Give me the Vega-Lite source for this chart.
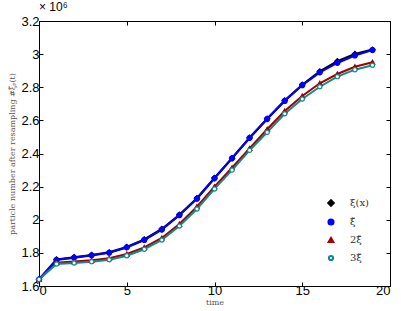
{
  "$schema": "https://vega.github.io/schema/vega-lite/v6.json",
  "autosize": {"type": "none"},
  "width": 351,
  "height": 265,
  "padding": {"left": 39, "top": 21, "right": 11, "bottom": 25},
  "background": "white",
  "title": {"text": "× 10⁶", "anchor": "start", "frame": "group", "offset": 1, "fontSize": 12, "fontWeight": "normal", "font": "Liberation Sans", "color": "black"},
  "config": {
    "view": {"stroke": "black", "strokeWidth": 1},
    "axis": {"grid": false, "domain": false, "tickColor": "black", "tickSize": -4, "labelFont": "Liberation Sans", "labelFontSize": 13, "labelColor": "black", "titleFont": "DejaVu Serif", "titleFontSize": 8, "titleFontWeight": "normal", "titleColor": "#555555"},
    "legend": {"orient": "none", "legendX": 287, "legendY": 177, "padding": 0, "title": null, "labelFont": "DejaVu Serif", "labelFontSize": 10, "labelColor": "#333333", "rowPadding": 4, "labelOffset": 14, "symbolStrokeWidth": 1.6}
  },
  "data": {"values": [
    {"t":0,"v":1640000,"s":"ξ(x)"},{"t":1,"v":1760000,"s":"ξ(x)"},{"t":2,"v":1773000,"s":"ξ(x)"},{"t":3,"v":1787000,"s":"ξ(x)"},{"t":4,"v":1803000,"s":"ξ(x)"},{"t":5,"v":1835000,"s":"ξ(x)"},{"t":6,"v":1881000,"s":"ξ(x)"},{"t":7,"v":1944000,"s":"ξ(x)"},{"t":8,"v":2030000,"s":"ξ(x)"},{"t":9,"v":2130000,"s":"ξ(x)"},{"t":10,"v":2252000,"s":"ξ(x)"},{"t":11,"v":2372000,"s":"ξ(x)"},{"t":12,"v":2495000,"s":"ξ(x)"},{"t":13,"v":2610000,"s":"ξ(x)"},{"t":14,"v":2720000,"s":"ξ(x)"},{"t":15,"v":2815000,"s":"ξ(x)"},{"t":16,"v":2895000,"s":"ξ(x)"},{"t":17,"v":2957000,"s":"ξ(x)"},{"t":18,"v":3001000,"s":"ξ(x)"},{"t":19,"v":3027000,"s":"ξ(x)"},
    {"t":0,"v":1640000,"s":"ξ̃"},{"t":1,"v":1757000,"s":"ξ̃"},{"t":2,"v":1771000,"s":"ξ̃"},{"t":3,"v":1785000,"s":"ξ̃"},{"t":4,"v":1801000,"s":"ξ̃"},{"t":5,"v":1833000,"s":"ξ̃"},{"t":6,"v":1878000,"s":"ξ̃"},{"t":7,"v":1940000,"s":"ξ̃"},{"t":8,"v":2027000,"s":"ξ̃"},{"t":9,"v":2127000,"s":"ξ̃"},{"t":10,"v":2250000,"s":"ξ̃"},{"t":11,"v":2371000,"s":"ξ̃"},{"t":12,"v":2494000,"s":"ξ̃"},{"t":13,"v":2608000,"s":"ξ̃"},{"t":14,"v":2717000,"s":"ξ̃"},{"t":15,"v":2812000,"s":"ξ̃"},{"t":16,"v":2890000,"s":"ξ̃"},{"t":17,"v":2947000,"s":"ξ̃"},{"t":18,"v":2992000,"s":"ξ̃"},{"t":19,"v":3025000,"s":"ξ̃"},
    {"t":0,"v":1640000,"s":"2ξ̃"},{"t":1,"v":1741000,"s":"2ξ̃"},{"t":2,"v":1747000,"s":"2ξ̃"},{"t":3,"v":1755000,"s":"2ξ̃"},{"t":4,"v":1767000,"s":"2ξ̃"},{"t":5,"v":1793000,"s":"2ξ̃"},{"t":6,"v":1833000,"s":"2ξ̃"},{"t":7,"v":1890000,"s":"2ξ̃"},{"t":8,"v":1974000,"s":"2ξ̃"},{"t":9,"v":2079000,"s":"2ξ̃"},{"t":10,"v":2200000,"s":"2ξ̃"},{"t":11,"v":2314000,"s":"2ξ̃"},{"t":12,"v":2431000,"s":"2ξ̃"},{"t":13,"v":2546000,"s":"2ξ̃"},{"t":14,"v":2657000,"s":"2ξ̃"},{"t":15,"v":2747000,"s":"2ξ̃"},{"t":16,"v":2824000,"s":"2ξ̃"},{"t":17,"v":2880000,"s":"2ξ̃"},{"t":18,"v":2924000,"s":"2ξ̃"},{"t":19,"v":2951000,"s":"2ξ̃"},
    {"t":0,"v":1640000,"s":"3ξ̃"},{"t":1,"v":1733000,"s":"3ξ̃"},{"t":2,"v":1739000,"s":"3ξ̃"},{"t":3,"v":1747000,"s":"3ξ̃"},{"t":4,"v":1759000,"s":"3ξ̃"},{"t":5,"v":1783000,"s":"3ξ̃"},{"t":6,"v":1822000,"s":"3ξ̃"},{"t":7,"v":1878000,"s":"3ξ̃"},{"t":8,"v":1962000,"s":"3ξ̃"},{"t":9,"v":2065000,"s":"3ξ̃"},{"t":10,"v":2186000,"s":"3ξ̃"},{"t":11,"v":2300000,"s":"3ξ̃"},{"t":12,"v":2419000,"s":"3ξ̃"},{"t":13,"v":2528000,"s":"3ξ̃"},{"t":14,"v":2640000,"s":"3ξ̃"},{"t":15,"v":2729000,"s":"3ξ̃"},{"t":16,"v":2803000,"s":"3ξ̃"},{"t":17,"v":2864000,"s":"3ξ̃"},{"t":18,"v":2906000,"s":"3ξ̃"},{"t":19,"v":2933000,"s":"3ξ̃"}
  ]},
  "resolve": {"axis": {"x": "independent", "y": "independent"}},
  "layer": [
    {
      "mark": {"type": "line"},
      "encoding": {
        "x": {"field": "t", "type": "quantitative", "scale": {"domain": [0, 20]}, "axis": {"values": [0, 5, 10, 15, 20], "title": "time", "labelPadding": 2, "titlePadding": 1}},
        "y": {"field": "v", "type": "quantitative", "scale": {"domain": [1600000, 3200000], "zero": false}, "axis": {"values": [1600000, 1800000, 2000000, 2200000, 2400000, 2600000, 2800000, 3000000, 3200000], "labelExpr": "format(datum.value/1e6, '~g')", "title": "particle number after resampling #ξ̃ₚ(t)", "labelPadding": 4, "titlePadding": 4}},
        "stroke": {"field": "s", "type": "nominal", "sort": ["ξ(x)", "ξ̃", "2ξ̃", "3ξ̃"], "scale": {"domain": ["ξ(x)", "ξ̃", "2ξ̃", "3ξ̃"], "range": ["#000000", "#0000ff", "#a00000", "#138a8a"]},
          "legend": {"encode": {"symbols": {"update": {"strokeWidth": {"value": 1.4}}}}}},
        "strokeWidth": {"field": "s", "type": "nominal", "scale": {"domain": ["ξ(x)", "ξ̃", "2ξ̃", "3ξ̃"], "range": [2.2, 2, 1.4, 1.4]}, "legend": null}
      }
    },
    {
      "mark": {"type": "point", "filled": false, "strokeWidth": 1.2, "opacity": 1},
      "encoding": {
        "x": {"field": "t", "type": "quantitative", "axis": null},
        "y": {"field": "v", "type": "quantitative", "axis": null},
        "stroke": {"field": "s", "type": "nominal", "sort": ["ξ(x)", "ξ̃", "2ξ̃", "3ξ̃"], "scale": {"domain": ["ξ(x)", "ξ̃", "2ξ̃", "3ξ̃"], "range": ["#000000", "#0000ff", "#a00000", "#138a8a"]},
          "legend": {"encode": {"symbols": {"update": {"strokeWidth": {"value": 1.4}}}}}},
        "fill": {"field": "s", "type": "nominal", "scale": {"domain": ["ξ(x)", "ξ̃", "2ξ̃", "3ξ̃"], "range": ["#000000", "#0000ff", "#a00000", "#ffffff"]}, "legend": null},
        "shape": {"field": "s", "type": "nominal", "scale": {"domain": ["ξ(x)", "ξ̃", "2ξ̃", "3ξ̃"], "range": ["diamond", "circle", "triangle-up", "circle"]}, "legend": null},
        "size": {"field": "s", "type": "nominal", "scale": {"domain": ["ξ(x)", "ξ̃", "2ξ̃", "3ξ̃"], "range": [28, 18, 26, 24]}, "legend": null}
      }
    },
    {
      "mark": {"type": "point", "opacity": 0},
      "encoding": {
        "x": {"field": "t", "type": "quantitative", "axis": {"orient": "top", "values": [0, 5, 10, 15, 20], "labels": false, "title": null}},
        "y": {"field": "v", "type": "quantitative", "axis": {"orient": "right", "values": [1600000, 1800000, 2000000, 2200000, 2400000, 2600000, 2800000, 3000000, 3200000], "labels": false, "title": null}}
      }
    }
  ]
}
